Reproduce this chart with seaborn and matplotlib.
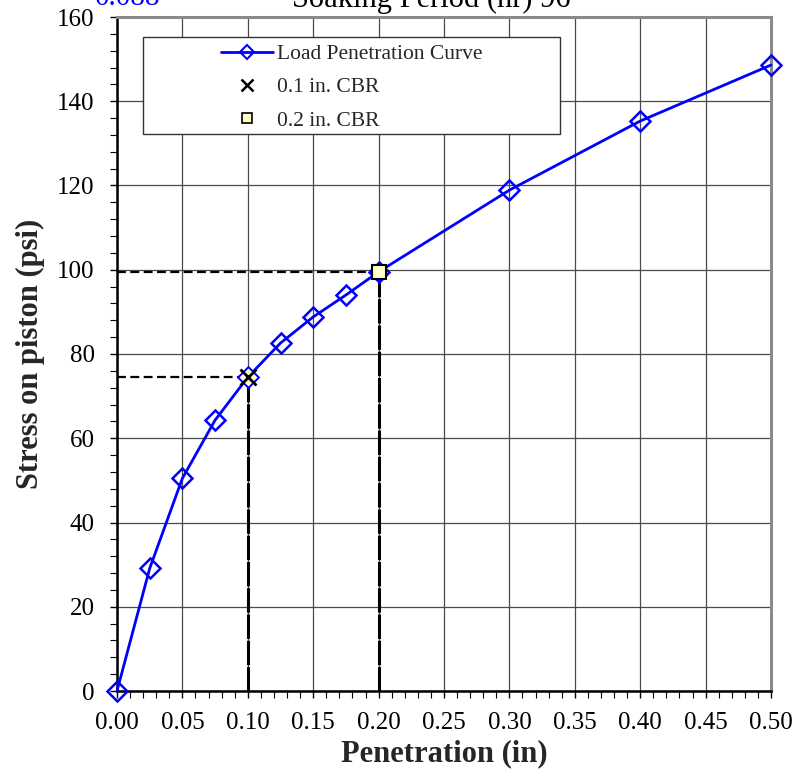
import numpy as np
import pandas as pd
import matplotlib
matplotlib.use("Agg")
import matplotlib.pyplot as plt
from matplotlib.ticker import MultipleLocator
from matplotlib.patches import Rectangle
from matplotlib.lines import Line2D
import seaborn as sns

# readings taken off the load penetration curve
penetration = [0.0, 0.025, 0.05, 0.075, 0.1, 0.125, 0.15, 0.175, 0.2, 0.3, 0.4, 0.5]
stress = [0.0, 29.1, 50.5, 64.3, 74.5, 82.6, 88.8, 94.0, 99.5, 118.9, 135.3, 148.6]
cbr_01 = (0.1, 74.5)
cbr_02 = (0.2, 99.5)
soaking_hr = 96
top_value = "0.088"

df = pd.DataFrame({"Penetration": penetration, "Stress": stress})

sns.set_style("ticks")
plt.rcParams["font.family"] = ["Liberation Serif", "DejaVu Serif"]

fig = plt.figure(figsize=(8.08, 7.73), dpi=100)
ax = fig.add_axes([117 / 808, 1 - 691 / 773, 654 / 808, 674 / 773])

blue = "#0000FF"
cream = "#FFFFC8"

# guide lines to the CBR points
for px, py in (cbr_01, cbr_02):
    ax.plot([0, px], [py, py], color="k", lw=1.6, ls=(0, (4, 2)), zorder=3)
    ax.plot([px, px], [0, py], color="k", lw=2.2, ls=(0, (8, 0.6)), zorder=3)

sns.lineplot(data=df, x="Penetration", y="Stress", ax=ax, color=blue, lw=2,
             marker="D", markersize=10.5, markerfacecolor="none",
             markeredgecolor=blue, markeredgewidth=1.8, zorder=4, clip_on=False)

ax.plot(cbr_01[0], cbr_01[1], marker="D", ms=9, mfc=cream, mec="none", zorder=5)
ax.plot(cbr_01[0], cbr_01[1], marker="x", ms=12, mec="k", mew=2, zorder=6)
ax.plot(cbr_02[0], cbr_02[1], marker="s", ms=10, mfc=cream, mec="k", mew=1.5, zorder=6)

ax.set_xlim(0, 0.5)
ax.set_ylim(0, 160)
ax.xaxis.set_major_locator(MultipleLocator(0.05))
ax.xaxis.set_minor_locator(MultipleLocator(0.01))
ax.yaxis.set_major_locator(MultipleLocator(20))
ax.yaxis.set_minor_locator(MultipleLocator(4))
ax.xaxis.set_major_formatter(lambda v, p: f"{v:.2f}")
ax.yaxis.set_major_formatter(lambda v, p: f"{v:.0f}")
ax.tick_params(which="major", direction="out", length=5, width=1, labelsize=18, colors="k")
ax.tick_params(which="minor", direction="out", length=5, width=0.8, colors="k")
ax.tick_params(axis="y", which="major", pad=11)
ax.tick_params(axis="x", which="major", pad=10)
ax.grid(True, which="major", color="#4a4a4a", lw=0.9)
ax.set_axisbelow(True)

for s in ("left", "bottom"):
    ax.spines[s].set_color("k")
    ax.spines[s].set_linewidth(1.8)
for s in ("top", "right"):
    ax.spines[s].set_visible(True)
    ax.spines[s].set_color("#8a8a8a")
    ax.spines[s].set_linewidth(2.2)

ax.set_xlabel("Penetration (in)", fontsize=22, fontweight="bold", labelpad=4)
ax.set_ylabel("Stress on piston (psi)", fontsize=22, fontweight="bold", labelpad=9)

# legend box
ax.add_patch(Rectangle((26 / 654, 1 - 134 / 674 + 17 / 674), 417 / 654, 97 / 674,
                       transform=ax.transAxes, facecolor="white", edgecolor="#333333",
                       lw=1, zorder=7))
handles = [
    Line2D([], [], color=blue, lw=2, marker="D", ms=7, mfc="none", mec=blue, mew=1.5),
    Line2D([], [], ls="none", marker="x", ms=8, mec="k", mew=1.8),
    Line2D([], [], ls="none", marker="s", ms=7, mfc=cream, mec="k", mew=1.2),
]
leg = ax.legend(handles, ["Load Penetration Curve", "0.1 in. CBR", "0.2 in. CBR"],
                loc="upper left", bbox_to_anchor=(104 / 654, 1 - 27 / 674),
                frameon=False, fontsize=15.5, handlelength=2.4, handletextpad=0.2,
                labelspacing=0.62, borderpad=0, borderaxespad=0)
leg.set_zorder(8)

# header texts cut by the top edge
fig.text(95 / 808, 1 - 5 / 773, top_value, color=blue, fontsize=21, ha="left", va="baseline")
fig.text(431 / 808, 1 - 7 / 773, f"Soaking Period (hr) {soaking_hr}", color="k",
         fontsize=22, ha="center", va="baseline")

fig.savefig("out.png", dpi=100)
